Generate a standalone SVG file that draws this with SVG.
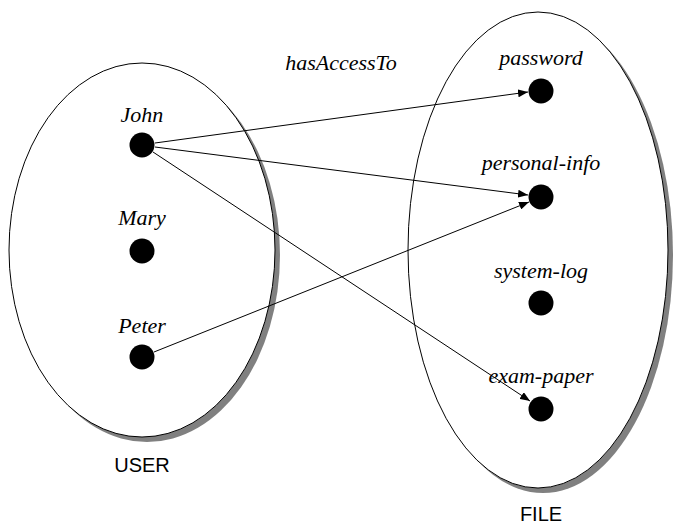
<svg xmlns="http://www.w3.org/2000/svg" width="674" height="524" viewBox="0 0 674 524">
<style>
.set{fill:#fff;stroke:#000;stroke-width:1}
.shadow{fill:#808080}
.dot{fill:#000}
.lbl{font-family:"Liberation Serif",serif;font-style:italic;font-size:22px;text-anchor:middle;fill:#000}
.cap{font-family:"Liberation Sans",sans-serif;font-size:20px;text-anchor:middle;fill:#000}
.edge{stroke:#000;stroke-width:1;fill:none;marker-end:url(#ah)}
</style>
<defs>
<marker id="ah" viewBox="0 0 10 8" refX="10" refY="4" markerWidth="10" markerHeight="8" markerUnits="userSpaceOnUse" orient="auto">
<path d="M0,0 L10,4 L0,8 Z" fill="#000"/>
</marker>
</defs>
<g id="USER">
<ellipse class="shadow" cx="147" cy="255" rx="133" ry="187"/>
<ellipse class="set" cx="142" cy="250" rx="133" ry="187"/>
<text class="cap" x="142" y="472">USER</text>
</g>
<g id="FILE">
<ellipse class="shadow" cx="543" cy="255" rx="130" ry="238"/>
<ellipse class="set" cx="538" cy="250" rx="130" ry="238"/>
<text class="cap" x="541" y="521">FILE</text>
</g>
<g id="John"><text class="lbl" x="142" y="122">John</text><circle class="dot" cx="142" cy="145" r="12.5"/></g>
<g id="Mary"><text class="lbl" x="142" y="225">Mary</text><circle class="dot" cx="142" cy="251" r="12.5"/></g>
<g id="Peter"><text class="lbl" x="142" y="333">Peter</text><circle class="dot" cx="142" cy="357" r="12.5"/></g>
<g id="password"><text class="lbl" x="541" y="65">password</text><circle class="dot" cx="541" cy="91" r="12.5"/></g>
<g id="personal-info"><text class="lbl" x="541" y="170">personal-info</text><circle class="dot" cx="541" cy="197" r="12.5"/></g>
<g id="system-log"><text class="lbl" x="541" y="278">system-log</text><circle class="dot" cx="541" cy="303" r="12.5"/></g>
<g id="exam-paper"><text class="lbl" x="541" y="383">exam-paper</text><circle class="dot" cx="541" cy="409" r="12.5"/></g>
<g id="connectors">
<text class="lbl" x="341" y="70">hasAccessTo</text>
<line class="edge" x1="155" y1="143" x2="528" y2="92"/>
<line class="edge" x1="155" y1="147" x2="528" y2="195"/>
<line class="edge" x1="153" y1="152" x2="530" y2="401"/>
<line class="edge" x1="154" y1="352" x2="529" y2="202"/>
</g>
</svg>
